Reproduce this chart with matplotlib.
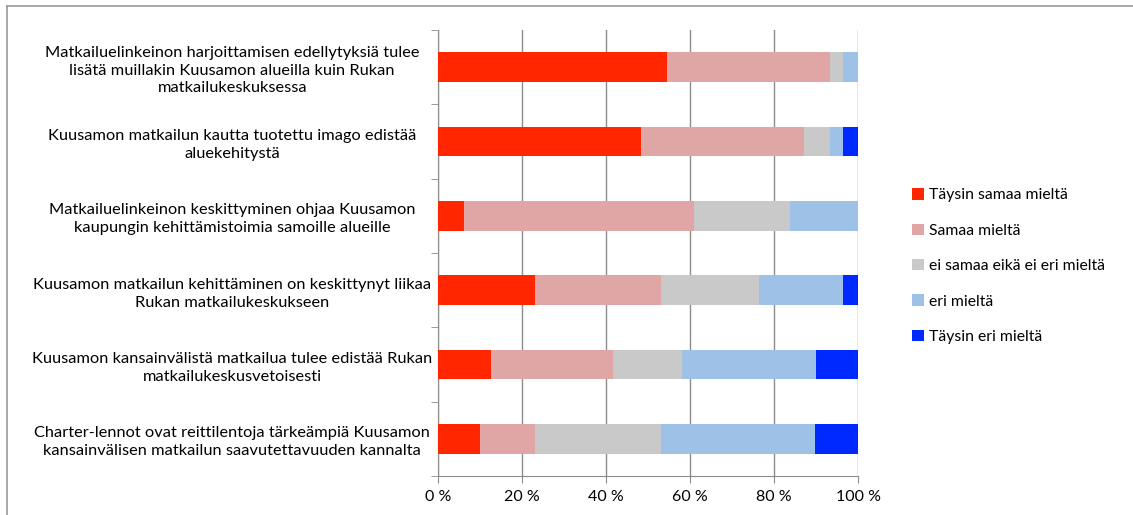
import matplotlib
matplotlib.use("Agg")
import matplotlib.pyplot as plt
from matplotlib.lines import Line2D
import numpy as np

categories = [
    "Matkailuelinkeinon harjoittamisen edellytyksiä tulee\nlisätä muillakin Kuusamon alueilla kuin Rukan\nmatkailukeskuksessa",
    "Kuusamon matkailun kautta tuotettu imago edistää\naluekehitystä",
    "Matkailuelinkeinon keskittyminen ohjaa Kuusamon\nkaupungin kehittämistoimia samoille alueille",
    "Kuusamon matkailun kehittäminen on keskittynyt liikaa\nRukan matkailukeskukseen",
    "Kuusamon kansainvälistä matkailua tulee edistää Rukan\nmatkailukeskusvetoisesti",
    "Charter-lennot ovat reittilentoja tärkeämpiä Kuusamon\nkansainvälisen matkailun saavutettavuuden kannalta",
]
series_names = ["Täysin samaa mieltä", "Samaa mieltä", "ei samaa eikä ei eri mieltä",
                "eri mieltä", "Täysin eri mieltä"]
taysin_samaa = [54.6, 48.3, 6.1, 23.0, 12.5, 9.9]
samaa = [38.8, 38.8, 54.8, 30.0, 29.1, 13.1]
ei_kumpaakaan = [3.0, 6.3, 22.8, 23.5, 16.4, 30.0]
eri = [3.6, 3.0, 16.3, 19.9, 32.0, 36.7]
taysin_eri = [0.0, 3.6, 0.0, 3.6, 10.0, 10.3]
xtick_labels = ["0 %", "20 %", "40 %", "60 %", "80 %", "100 %"]

colors = ["#FF2600", "#E0A6A6", "#C9C9C9", "#9EC1E8", "#0029FF"]

plt.rcParams['font.family'] = ['Lato', 'DejaVu Sans']

W, H = 1133, 515
fig = plt.figure(figsize=(W / 100, H / 100), dpi=100)
ax = fig.add_axes([438 / W, 1 - 476 / H, 420 / W, 446 / H])

data = [taysin_samaa, samaa, ei_kumpaakaan, eri, taysin_eri]
y = np.arange(len(categories))
left = np.zeros(len(categories))
for vals, name, c in zip(data, series_names, colors):
    v = np.array(vals)
    ax.barh(y, v, left=left, height=0.4, color=c, label=name, zorder=3)
    left += v

ax.set_xlim(0, 100)
ax.set_ylim(len(categories) - 0.5, -0.5)
ax.set_xticks(np.arange(0, 101, 20))
ax.set_xticklabels(xtick_labels, fontsize=11.5)
ax.set_yticks(y)
ax.set_yticklabels(categories, fontsize=11.8, ha='center', multialignment='center',
                   linespacing=1.35)
ax.tick_params(axis='y', length=0)
for lab in ax.get_yticklabels():
    lab.set_transform(ax.get_yaxis_transform())
    lab.set_position((-0.49, lab.get_position()[1]))
ax.set_yticks(np.arange(-0.5, len(categories), 1), minor=True)
ax.tick_params(axis='y', which='minor', length=5, color='#8c8c8c', direction='out')
ax.tick_params(axis='x', length=5, color='#8c8c8c', direction='out', pad=5)
ax.grid(axis='x', color='#8c8c8c', linewidth=1.0, zorder=0)
for s in ['top', 'right']:
    ax.spines[s].set_visible(False)
for s in ['left', 'bottom']:
    ax.spines[s].set_color('#8c8c8c')

handles, labels = ax.get_legend_handles_labels()
fig.legend(handles, labels, loc='upper left', bbox_to_anchor=(898 / W, 1 - 174 / H),
           frameon=False, fontsize=11.3, handlelength=0.75, handleheight=0.75,
           handletextpad=0.3, labelspacing=1.35)

# outer border (top and left only visible)
fig.add_artist(Line2D([7 / W, 1.0], [1 - 6 / H, 1 - 6 / H], transform=fig.transFigure,
                      color='#999999', linewidth=1.2))
fig.add_artist(Line2D([7 / W, 7 / W], [0.0, 1 - 6 / H], transform=fig.transFigure,
                      color='#999999', linewidth=1.2))

fig.savefig("out.png", dpi=100)
